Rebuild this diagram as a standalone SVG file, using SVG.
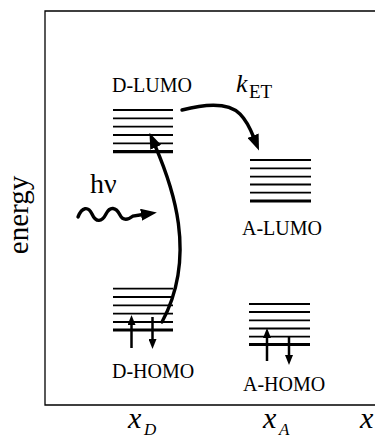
<svg xmlns="http://www.w3.org/2000/svg" width="375" height="438" viewBox="0 0 375 438">
<style>
.lbl{font-family:"Liberation Serif","Times New Roman",serif;font-size:20px;fill:#000}
.it{font-family:"Liberation Serif","Times New Roman",serif;font-style:italic;fill:#000}
.up{font-family:"Liberation Serif","Times New Roman",serif;fill:#000}
.thin{stroke:#000;stroke-width:1.8}
.thick{stroke:#000;stroke-width:3.2}
.arr{fill:none;stroke:#000;stroke-width:3.4;stroke-linecap:round}
.spin{fill:none;stroke:#000;stroke-width:2.5}
.frame{fill:none;stroke:#000;stroke-width:1.3}
</style>
<defs>
<marker id="ah" viewBox="0 0 16 12" refX="2" refY="6" markerWidth="16" markerHeight="12" markerUnits="userSpaceOnUse" orient="auto">
<path d="M0,0 L16,6 L0,12 z" fill="#000"/>
</marker>
<marker id="sh" viewBox="0 0 10 8" refX="1" refY="4" markerWidth="10" markerHeight="8" markerUnits="userSpaceOnUse" orient="auto">
<path d="M0,0 L10,4 L0,8 z" fill="#000"/>
</marker>
</defs>
<rect width="375" height="438" fill="#fff"/>
<g id="axes">
<path class="frame" d="M375,11 H45 V405 H375"/>
<text class="up" font-size="29" text-anchor="middle" transform="translate(28,215) rotate(-90)">energy</text>
<text class="it" font-size="30" x="128" y="428">x</text><text class="it" font-size="17" x="144" y="435">D</text>
<text class="it" font-size="30" x="263" y="428">x</text><text class="it" font-size="17" x="279" y="435">A</text>
<text class="it" font-size="30" x="360" y="428">x</text>
</g>
<g id="d-lumo">
<text class="lbl" x="112" y="92">D-LUMO</text>
<line class="thin" x1="113" y1="110" x2="173" y2="110"/>
<line class="thin" x1="113" y1="118.3" x2="173" y2="118.3"/>
<line class="thin" x1="113" y1="126.7" x2="173" y2="126.7"/>
<line class="thin" x1="113" y1="135" x2="173" y2="135"/>
<line class="thin" x1="113" y1="143.3" x2="173" y2="143.3"/>
<line class="thick" x1="113" y1="151.7" x2="173" y2="151.7"/>
</g>
<g id="a-lumo">
<line class="thin" x1="250" y1="160" x2="311" y2="160"/>
<line class="thin" x1="250" y1="168.3" x2="311" y2="168.3"/>
<line class="thin" x1="250" y1="176.7" x2="311" y2="176.7"/>
<line class="thin" x1="250" y1="184.5" x2="311" y2="184.5"/>
<line class="thin" x1="250" y1="192.7" x2="311" y2="192.7"/>
<line class="thick" x1="250" y1="201" x2="311" y2="201"/>
<text class="lbl" x="242" y="235">A-LUMO</text>
</g>
<g id="d-homo">
<line class="thin" x1="113" y1="288.7" x2="173" y2="288.7"/>
<line class="thin" x1="113" y1="297" x2="173" y2="297"/>
<line class="thin" x1="113" y1="305.3" x2="173" y2="305.3"/>
<line class="thin" x1="113" y1="313.7" x2="173" y2="313.7"/>
<line class="thin" x1="113" y1="322" x2="173" y2="322"/>
<line class="thick" x1="113" y1="330" x2="173" y2="330"/>
<line class="spin" x1="131.5" y1="348" x2="131.5" y2="324" marker-end="url(#sh)"/>
<line class="spin" x1="152.5" y1="317" x2="152.5" y2="340" marker-end="url(#sh)"/>
<text class="lbl" x="112" y="378">D-HOMO</text>
</g>
<g id="a-homo">
<line class="thin" x1="249" y1="304" x2="310" y2="304"/>
<line class="thin" x1="249" y1="312" x2="310" y2="312"/>
<line class="thin" x1="249" y1="320.3" x2="310" y2="320.3"/>
<line class="thin" x1="249" y1="328.5" x2="310" y2="328.5"/>
<line class="thin" x1="249" y1="336.7" x2="310" y2="336.7"/>
<line class="thick" x1="249" y1="344.5" x2="310" y2="344.5"/>
<line class="spin" x1="267" y1="361" x2="267" y2="337" marker-end="url(#sh)"/>
<line class="spin" x1="289" y1="336" x2="289" y2="356" marker-end="url(#sh)"/>
<text class="lbl" x="243" y="391">A-HOMO</text>
</g>
<g id="photon">
<text class="up" font-size="28" x="90" y="193">hν</text>
</g>
<g id="ket-label">
<text class="it" font-size="26" x="236" y="92">k</text><text class="up" font-size="19" x="249" y="98">ET</text>
</g>
<g id="connectors">
<path class="arr" d="M78,217 C82,207 88,206 92,214 C96,223 102,222 106,214 C110,206 116,207 120,215 C123,221 128,220 133,216 L143,214.5" marker-end="url(#ah)"/>
<path class="arr" d="M162,322 C198,255 172,185 155,145.5" marker-end="url(#ah)"/>
<path class="arr" d="M182,110 C205,104 228,102 240,114 C246,120 250,128 253.8,137.5" marker-end="url(#ah)"/>
</g>
</svg>
